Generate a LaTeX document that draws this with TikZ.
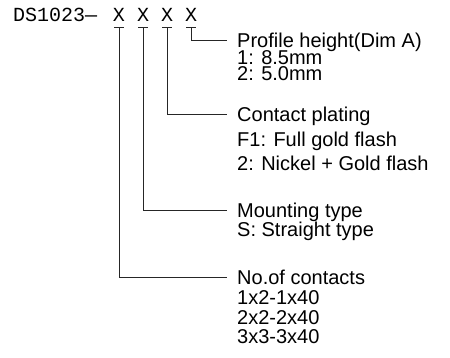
\documentclass[tikz,border=0pt]{standalone}
\usepackage{fontspec}
\setmainfont{Liberation Sans}
\newfontfamily\cadfont{Liberation Mono}
\begin{document}
\begin{tikzpicture}[x=1pt,y=-1pt,
  lbl/.style={anchor=base west, inner sep=0pt, font=\fontsize{20}{24}\selectfont},
  cad/.style={inner sep=0pt, font=\cadfont\fontsize{20}{22}\selectfont},
  leader/.style={line width=0.8pt, black!85}]
\useasboundingbox (0,0) rectangle (450,358);
% header
\node[cad, anchor=base west] (pre) at (13,22) {DS1023—};
\node[cad, anchor=base] (x1) at (119,22) {X};
\node[cad, anchor=base] (x2) at (143,22) {X};
\node[cad, anchor=base] (x3) at (167,22) {X};
\node[cad, anchor=base] (x4) at (191,22) {X};
% leader ends
\coordinate (e4) at (227,40.5);
\coordinate (e3) at (227,114.5);
\coordinate (e2) at (227,210.5);
\coordinate (e1) at (227,277.5);
% underlines and leaders
\foreach \i in {1,2,3,4}{
  \draw[leader] ([xshift=-5pt,yshift=-5.5pt]x\i.south) -- ([xshift=5pt,yshift=-5.5pt]x\i.south);
  \draw[leader] ([yshift=-5.5pt]x\i.south) |- (e\i);
}
% labels
\node[lbl] (p0) at (237,47.5) {Profile height(Dim A)};
\node[lbl] (p1) at (237,64.5) {1: 8.5mm};
\node[lbl] (p2) at (237,81) {2: 5.0mm};
\node[lbl] (c0) at (237,121.5) {Contact plating};
\node[lbl] (c1) at (237,146.5) {F1: Full gold flash};
\node[lbl] (c2) at (237,170.5) {2: Nickel + Gold flash};
\node[lbl] (m0) at (237,217.5) {Mounting type};
\node[lbl] (m1) at (237,237) {S: Straight type};
\node[lbl] (n0) at (237,284.5) {No.of contacts};
\node[lbl] (n1) at (237,305) {1x2-1x40};
\node[lbl] (n2) at (237,324) {2x2-2x40};
\node[lbl] (n3) at (237,343) {3x3-3x40};
\end{tikzpicture}
\end{document}
